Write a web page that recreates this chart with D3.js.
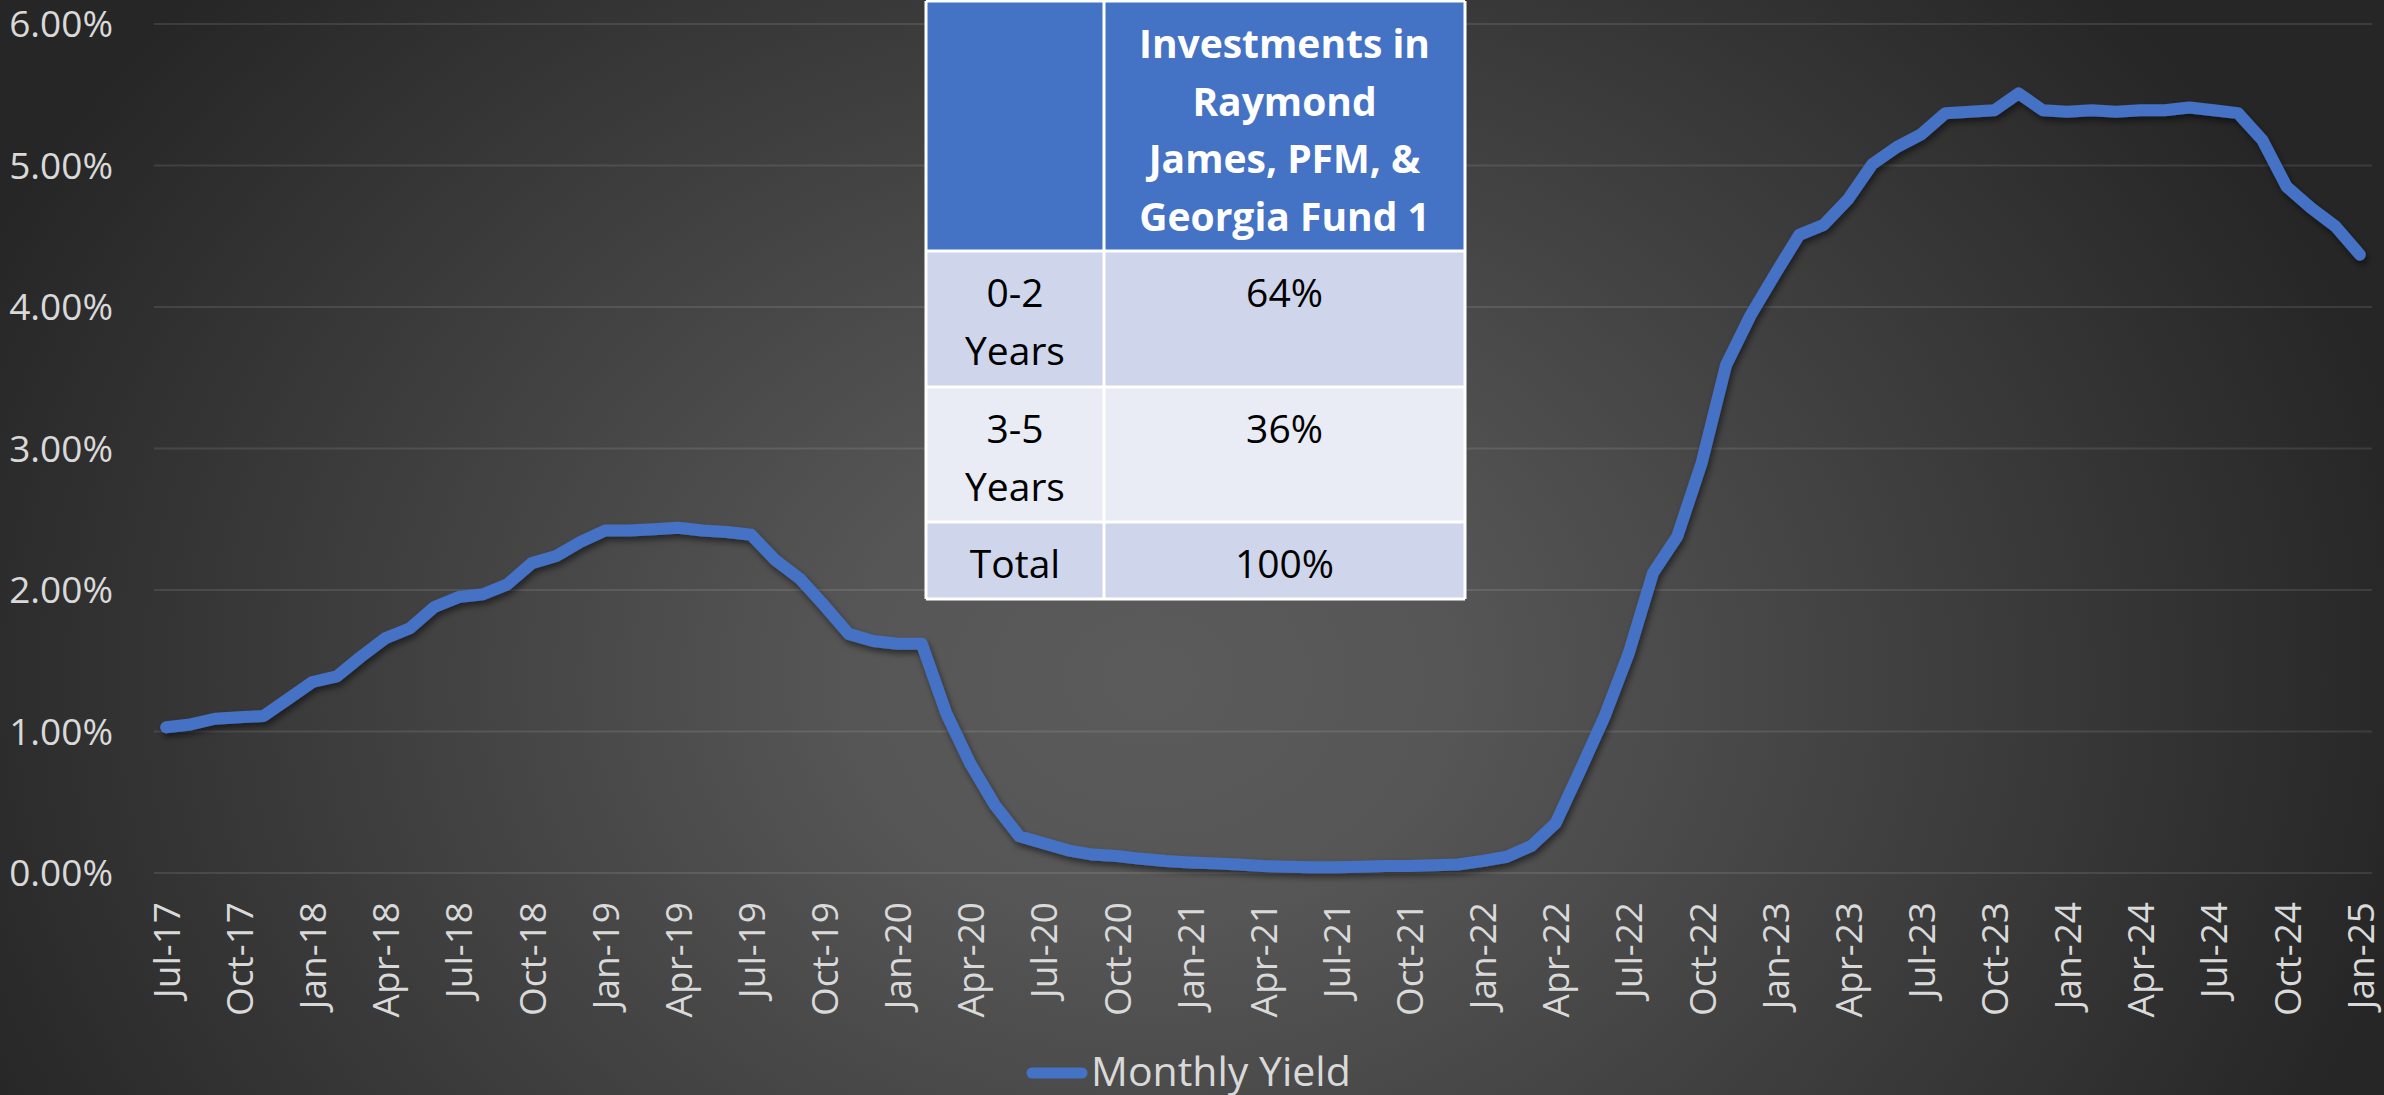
<!DOCTYPE html>
<html>
<head>
<meta charset="utf-8">
<script src="https://cdn.jsdelivr.net/npm/d3@7"></script>
<style>
  html, body { margin: 0; padding: 0; background: #2a2a2a; }
  svg { display: block; }
  text { font-family: "Open Sans", sans-serif; }
</style>
</head>
<body>
<div id="chart"></div>
<script>
// monthly yield, Jul-17 .. Jan-25 (percent)
var yieldPct = [
  1.03, 1.05, 1.09, 1.10, 1.11, 1.23, 1.35, 1.39, 1.53, 1.66, 1.73, 1.88,
  1.95, 1.97, 2.04, 2.19, 2.24, 2.34, 2.42, 2.42, 2.43, 2.44, 2.42, 2.41,
  2.39, 2.21, 2.08, 1.89, 1.69, 1.64, 1.62, 1.62, 1.13, 0.77, 0.48, 0.26,
  0.21, 0.16, 0.13, 0.12, 0.10, 0.085, 0.075, 0.068, 0.06, 0.05, 0.045, 0.04,
  0.04, 0.045, 0.05, 0.05, 0.055, 0.06, 0.085, 0.115, 0.19, 0.35, 0.72, 1.10,
  1.55, 2.12, 2.38, 2.90, 3.59, 3.94, 4.23, 4.51, 4.58, 4.76, 5.01, 5.13,
  5.22, 5.37, 5.38, 5.39, 5.51, 5.39, 5.38, 5.39, 5.38, 5.39, 5.39, 5.41,
  5.39, 5.37, 5.18, 4.85, 4.70, 4.57, 4.37
];
var fmtMonth = d3.timeFormat('%b-%y');
var months = d3.timeMonth.range(new Date(2017, 6, 1), new Date(2025, 1, 1)).map(fmtMonth);
var tickMonths = months.filter(function(d, i){ return i % 3 === 0; });
var yTicks = [0, 0.01, 0.02, 0.03, 0.04, 0.05, 0.06];
var seriesName = 'Monthly Yield';

var tableHead = ['Investments in', 'Raymond', 'James, PFM, &', 'Georgia Fund 1'];
var tableRowLabels = [['0-2', 'Years'], ['3-5', 'Years'], ['Total']];
var tableRowValues = ['64%', '36%', '100%'];

var w = 2384, h = 1095,
    plotLeft = 154, plotRight = 2372, plotTop = 24, plotBottom = 873,
    blue = '#4472C4', labelColor = '#d9d9d9';

var svg = d3.select('#chart')
  .append('svg')
  .attr('width', w)
  .attr('height', h);

var defs = svg.append('defs');
var grad = defs.append('radialGradient')
  .attr('id', 'bg')
  .attr('gradientUnits', 'userSpaceOnUse')
  .attr('cx', 1150).attr('cy', 680).attr('r', 1350)
  .attr('gradientTransform', 'translate(1150,680) scale(1,0.8) translate(-1150,-680)');
grad.append('stop').attr('offset', 0).attr('stop-color', '#5b5b5b');
grad.append('stop').attr('offset', 0.22).attr('stop-color', '#565656');
grad.append('stop').attr('offset', 0.95).attr('stop-color', '#262626');

var shadow = defs.append('filter')
  .attr('id', 'shadow')
  .attr('x', '-5%').attr('y', '-5%').attr('width', '110%').attr('height', '110%');
shadow.append('feDropShadow')
  .attr('dx', 2).attr('dy', 4).attr('stdDeviation', 3)
  .attr('flood-color', '#000').attr('flood-opacity', 0.5);

svg.append('rect')
  .attr('width', w).attr('height', h)
  .attr('fill', 'url(#bg)');

var x = d3.scalePoint().domain(months).range([plotLeft, plotRight]).padding(0.5);
var y = d3.scaleLinear().domain([0, 0.06]).range([plotBottom, plotTop]);

// gridlines
svg.append('g')
  .selectAll('line')
  .data(yTicks)
  .enter()
  .append('line')
  .attr('x1', plotLeft).attr('x2', plotRight)
  .attr('y1', function(d){ return y(d); })
  .attr('y2', function(d){ return y(d); })
  .style('stroke', 'rgba(255,255,255,0.1)')
  .style('stroke-width', 2);

// y axis
var yAxis = svg.append('g')
  .attr('transform', 'translate(' + plotLeft + ',0)')
  .call(d3.axisLeft(y).tickValues(yTicks).tickFormat(d3.format('.2%')).tickSize(0).tickPadding(41));
yAxis.select('.domain').remove();
yAxis.selectAll('text')
  .attr('fill', labelColor)
  .attr('font-size', 37)
  .attr('dy', '0.34em');

// x axis
var xAxis = svg.append('g')
  .attr('transform', 'translate(0,' + plotBottom + ')')
  .call(d3.axisBottom(x).tickValues(tickMonths).tickSize(0));
xAxis.select('.domain').remove();
xAxis.selectAll('text')
  .attr('fill', labelColor)
  .attr('font-size', 37)
  .attr('text-anchor', 'end')
  .attr('transform', 'rotate(-90)')
  .attr('x', -29)
  .attr('y', 0)
  .attr('dy', '0.36em');

// line
var line = d3.line()
  .x(function(d, i){ return x(months[i]); })
  .y(function(d){ return y(d / 100); });

svg.append('path')
  .datum(yieldPct)
  .attr('d', line)
  .attr('fill', 'none')
  .attr('stroke', blue)
  .attr('stroke-width', 12)
  .attr('stroke-linejoin', 'round')
  .attr('stroke-linecap', 'round')
  .attr('filter', 'url(#shadow)');

// table
var tx0 = 926, tx1 = 1104, tx2 = 1465,
    rowEdges = [1, 251, 387, 522, 599],
    rowFills = [blue, '#CFD5EA', '#E9EBF5', '#CFD5EA'];

var table = svg.append('g');
rowFills.forEach(function(fill, r){
  table.append('rect')
    .attr('x', tx0).attr('y', rowEdges[r])
    .attr('width', tx2 - tx0).attr('height', rowEdges[r + 1] - rowEdges[r])
    .attr('fill', fill);
});
rowEdges.forEach(function(ry){
  table.append('line')
    .attr('x1', tx0).attr('x2', tx2).attr('y1', ry).attr('y2', ry)
    .style('stroke', '#fff').style('stroke-width', 3);
});
[tx0, tx1, tx2].forEach(function(cx){
  table.append('line')
    .attr('x1', cx).attr('x2', cx).attr('y1', rowEdges[0]).attr('y2', rowEdges[4])
    .style('stroke', '#fff').style('stroke-width', 3);
});

var colMid1 = (tx0 + tx1) / 2, colMid2 = (tx1 + tx2) / 2;
table.selectAll('text.head')
  .data(tableHead)
  .enter()
  .append('text')
  .attr('class', 'head')
  .attr('x', colMid2)
  .attr('y', function(d, i){ return 58 + i * 57.5; })
  .attr('text-anchor', 'middle')
  .attr('font-size', 39)
  .attr('font-weight', 'bold')
  .attr('fill', '#fff')
  .text(function(d){ return d; });

tableRowLabels.forEach(function(lines, r){
  var base = rowEdges[r + 1] + 56;
  lines.forEach(function(t, k){
    table.append('text')
      .attr('x', colMid1)
      .attr('y', base + k * 57.5)
      .attr('text-anchor', 'middle')
      .attr('font-size', 39)
      .attr('fill', '#000')
      .text(t);
  });
  table.append('text')
    .attr('x', colMid2)
    .attr('y', base)
    .attr('text-anchor', 'middle')
    .attr('font-size', 39)
    .attr('fill', '#000')
    .text(tableRowValues[r]);
});

// legend
svg.append('line')
  .attr('x1', 1032).attr('x2', 1082)
  .attr('y1', 1073).attr('y2', 1073)
  .attr('stroke', blue)
  .attr('stroke-width', 11)
  .attr('stroke-linecap', 'round');
svg.append('text')
  .attr('x', 1091)
  .attr('y', 1086)
  .attr('font-size', 41)
  .attr('fill', labelColor)
  .text(seriesName);
</script>
</body>
</html>
